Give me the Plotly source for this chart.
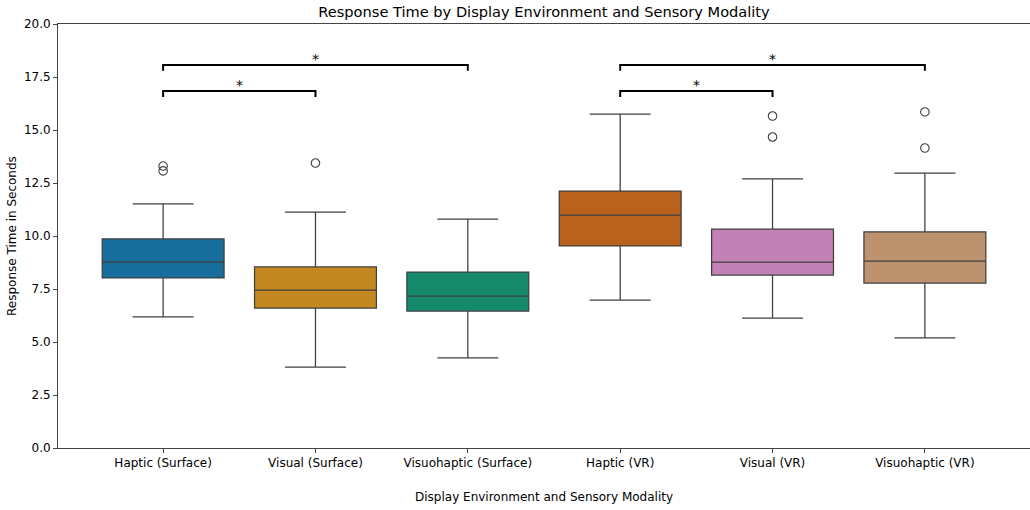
import plotly.graph_objects as go

categories = ["Haptic (Surface)", "Visual (Surface)", "Visuohaptic (Surface)",
              "Haptic (VR)", "Visual (VR)", "Visuohaptic (VR)"]
lower_whisker = [6.18, 3.82, 4.25, 6.98, 6.13, 5.19]
q1 = [8.02, 6.60, 6.46, 9.53, 8.16, 7.78]
median = [8.77, 7.45, 7.17, 10.99, 8.77, 8.82]
q3 = [9.86, 8.54, 8.30, 12.12, 10.33, 10.19]
upper_whisker = [11.51, 11.13, 10.80, 15.75, 12.69, 12.97]
outliers = [[13.30, 13.07], [13.44], [], [], [15.66, 14.67], [15.85, 14.15]]
colors = ["#176d9c", "#c38820", "#158a6a", "#ba611b", "#c282b6", "#bd926e"]

# significance brackets: (from index, to index, height, label)
brackets = [(0, 1, 16.84, "*"), (0, 2, 18.07, "*"), (3, 4, 16.84, "*"), (3, 5, 18.07, "*")]
bracket_drop = 0.28

fig = go.Figure()
for i, cat in enumerate(categories):
    fig.add_trace(go.Box(
        x=[i], q1=[q1[i]], median=[median[i]], q3=[q3[i]],
        lowerfence=[lower_whisker[i]], upperfence=[upper_whisker[i]],
        fillcolor=colors[i], line=dict(color="#3f3f3f", width=1.25),
        width=0.8, whiskerwidth=0.5, name=cat, showlegend=False,
        boxpoints=False, hoverinfo="skip"))
    if outliers[i]:
        fig.add_trace(go.Scatter(
            x=[i] * len(outliers[i]), y=outliers[i], mode="markers",
            marker=dict(symbol="circle-open", size=8.5, color="#3f3f3f",
                        line=dict(width=1.1, color="#3f3f3f")),
            showlegend=False, hoverinfo="skip"))

for a, b, h, lab in brackets:
    fig.add_trace(go.Scatter(
        x=[a, a, b, b], y=[h - bracket_drop, h, h, h - bracket_drop],
        mode="lines", line=dict(color="black", width=2),
        showlegend=False, hoverinfo="skip"))
    fig.add_annotation(x=(a + b) / 2, y=h, text=lab, showarrow=False,
                       yanchor="bottom", yshift=-4,
                       font=dict(size=14, color="black", family="DejaVu Sans"))

# axis titles as annotations for exact placement
fig.add_annotation(text="Display Environment and Sensory Modality",
                   xref="paper", yref="paper", x=0.5, y=-49 / 424,
                   yanchor="middle", showarrow=False, font=dict(size=12))
fig.add_annotation(text="Response Time in Seconds", textangle=-90,
                   xref="paper", yref="paper", x=-46 / 972, y=0.5,
                   xanchor="center", showarrow=False, font=dict(size=12))

fig.update_layout(
    width=1030, height=510,
    margin=dict(l=58, r=0, t=24, b=62, autoexpand=False),
    plot_bgcolor="white", paper_bgcolor="white",
    font=dict(family="DejaVu Sans", size=12, color="black"),
    title=dict(text="Response Time by Display Environment and Sensory Modality",
               x=0.5, xref="paper", xanchor="center",
               y=1 - 12 / 510, yanchor="middle", automargin=False,
               font=dict(size=14.6, color="black")),
    xaxis=dict(range=[-0.69, 5.69], tickmode="array", automargin=False,
               tickvals=list(range(len(categories))), ticktext=categories,
               showgrid=False, zeroline=False, showline=True, linecolor="#444",
               linewidth=1, mirror=True, ticks="outside", ticklen=4,
               tickcolor="#444"),
    yaxis=dict(range=[0, 20], tickmode="array", automargin=False,
               tickvals=[0, 2.5, 5, 7.5, 10, 12.5, 15, 17.5, 20],
               ticktext=["0.0", "2.5", "5.0", "7.5", "10.0", "12.5", "15.0", "17.5", "20.0"],
               showgrid=False, zeroline=False, showline=True, linecolor="#444",
               linewidth=1, mirror=False, ticks="outside", ticklen=4,
               tickcolor="#444"),
)

fig.write_html("out.html", config={"displayModeBar": False},
               post_script="document.body.style.margin='0';"
                           "document.body.style.overflow='hidden';")
